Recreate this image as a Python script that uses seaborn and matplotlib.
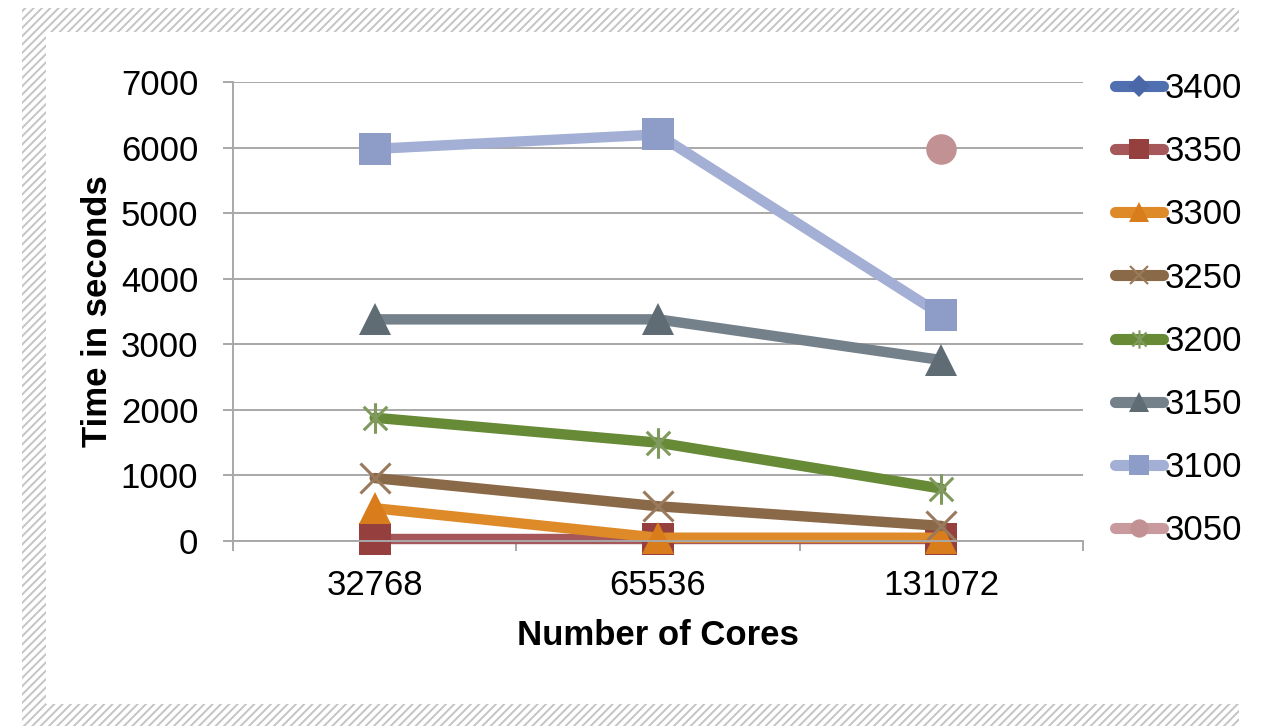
import numpy as np
import pandas as pd
import matplotlib
matplotlib.use("Agg")
import matplotlib.pyplot as plt
import seaborn as sns
from matplotlib.patches import Rectangle
from matplotlib.lines import Line2D
from matplotlib.path import Path

# ---- data -------------------------------------------------------------
cores = ["32768", "65536", "131072"]
series_names = ["3400", "3350", "3300", "3250", "3200", "3150", "3100", "3050"]
t_3400 = [np.nan, np.nan, np.nan]
t_3350 = [30, 30, 30]
t_3300 = [500, 50, 50]
t_3250 = [960, 530, 230]
t_3200 = [1880, 1500, 800]
t_3150 = [3380, 3380, 2760]
t_3100 = [5980, 6200, 3450]
t_3050 = [np.nan, np.nan, 5980]
y_ticks = [0, 1000, 2000, 3000, 4000, 5000, 6000, 7000]

values = [t_3400, t_3350, t_3300, t_3250, t_3200, t_3150, t_3100, t_3050]
df = pd.DataFrame({
    "cores": cores * len(series_names),
    "series": np.repeat(series_names, len(cores)),
    "time": np.concatenate(values),
})

# ---- styling ------------------------------------------------------------
sns.set_theme(style="white")
plt.rcParams["font.family"] = ["Liberation Sans", "DejaVu Sans"]
plt.rcParams["hatch.linewidth"] = 1.4
plt.rcParams["text.color"] = "black"

star = Path([(-1, -1), (1, 1), (-1, 1), (1, -1), (0, -1.3), (0, 1.3)],
            [Path.MOVETO, Path.LINETO, Path.MOVETO, Path.LINETO,
             Path.MOVETO, Path.LINETO])

style = {
    "3400": dict(color="#4f6fb0", mfc="#4a68a8", mec="#4a68a8", marker="D", ms=18, mew=0),
    "3350": dict(color="#a5575a", mfc="#963f3f", mec="#963f3f", marker="s", ms=23, mew=0),
    "3300": dict(color="#df8a28", mfc="#d97c1c", mec="#d97c1c", marker="^", ms=23, mew=0),
    "3250": dict(color="#8a6948", mfc="none", mec="#9a7a5c", marker="x", ms=22, mew=2.2),
    "3200": dict(color="#678a37", mfc="none", mec="#7f9a5c", marker=star, ms=22, mew=2.2),
    "3150": dict(color="#74808a", mfc="#606c74", mec="#606c74", marker="^", ms=23, mew=0),
    "3100": dict(color="#a3afd4", mfc="#8e9dc8", mec="#8e9dc8", marker="s", ms=23, mew=0),
    "3050": dict(color="#c99a9d", mfc="#c29194", mec="#c29194", marker="o", ms=22, mew=0),
}

W, H = 1270, 726
FS = 25
fig = plt.figure(figsize=(W / 100, H / 100), dpi=100)

# hatched frame around the white panel
fig.patches.append(Rectangle((22 / W, 0), (1239 - 22) / W, (726 - 8) / H,
                             transform=fig.transFigure, facecolor="white",
                             edgecolor="#c4c4c4", linewidth=0, hatch="////",
                             zorder=-2))
fig.patches.append(Rectangle((46 / W, (726 - 704) / H), (W - 46) / W, (704 - 32) / H,
                             transform=fig.transFigure, facecolor="white",
                             edgecolor="none", zorder=-1))

ax = fig.add_axes([233 / W, 1 - 541 / H, (1083 - 233) / W, (541 - 82) / H])
ax.set_facecolor("none")

handles = []
for name in series_names:
    st = style[name]
    sub = df[df["series"] == name]
    sns.lineplot(data=sub, x="cores", y="time", ax=ax, color=st["color"],
                 linewidth=7.5, marker=st["marker"], markersize=st["ms"],
                 markerfacecolor=st["mfc"], markeredgecolor=st["mec"],
                 markeredgewidth=st["mew"], sort=False, legend=False,
                 clip_on=False, solid_capstyle="round")
    handles.append(Line2D([], [], color=st["color"], linewidth=8,
                          solid_capstyle="round", marker=st["marker"],
                          markersize=st["ms"] * 0.6,
                          markerfacecolor=st["mfc"], markeredgecolor=st["mec"],
                          markeredgewidth=st["mew"] * 0.7, label=name))

# axes
ax.set_ylim(0, 7000)
ax.set_yticks(y_ticks)
ax.set_xlim(-0.5, 2.5)
ax.set_xticks([0, 1, 2])
ax.set_xticklabels(cores)
ax.set_xticks([-0.5, 0.5, 1.5, 2.5], minor=True)
grid_c = "#a8a8a8"
ax.yaxis.grid(True, color=grid_c, linewidth=1.4)
ax.xaxis.grid(False)
for s in ["top", "right"]:
    ax.spines[s].set_visible(False)
for s in ["left", "bottom"]:
    ax.spines[s].set_color(grid_c)
    ax.spines[s].set_linewidth(1.4)
ax.tick_params(axis="y", which="major", direction="out", length=7, width=1.4,
               color=grid_c, pad=18, labelsize=FS, left=True, labelcolor="black")
ax.tick_params(axis="x", which="major", length=0, pad=20, labelsize=FS,
               labelcolor="black")
ax.tick_params(axis="x", which="minor", direction="out", length=7, width=1.4,
               color=grid_c, bottom=True)

ax.set_ylabel("Time in seconds", fontsize=FS, fontweight="bold", color="black")
ax.set_xlabel("Number of Cores", fontsize=FS, fontweight="bold", color="black")
ax.yaxis.set_label_coords(-0.14, 0.5)
ax.xaxis.set_label_coords(0.5, -0.17)

leg = fig.legend(handles=handles, loc="upper left",
                 bbox_to_anchor=(1115 / W, 1 - 72 / H), frameon=False,
                 fontsize=FS, handlelength=1.38, handletextpad=0.05,
                 labelspacing=0.87, borderpad=0, borderaxespad=0)
for t in leg.get_texts():
    t.set_color("black")

fig.savefig("out.png", dpi=100)
